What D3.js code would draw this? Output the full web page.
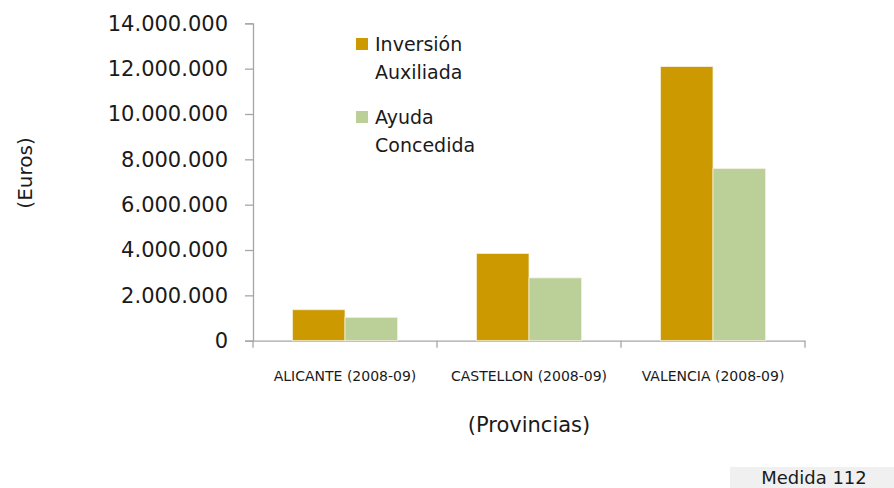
<!DOCTYPE html>
<html>
<head>
<meta charset="utf-8">
<script src="https://cdn.jsdelivr.net/npm/d3@7"></script>
<style>
  body { margin: 0; background: #fff; }
  svg text { font-family: "DejaVu Sans", Verdana, sans-serif; fill: #1a1a1a; }
</style>
</head>
<body>
<div id="chart"></div>
<script>
// data
let provincias = ["ALICANTE (2008-09)", "CASTELLON (2008-09)", "VALENCIA (2008-09)"]
let inversionAuxiliada = [1365000, 3850000, 12090000]
let ayudaConcedida = [1030000, 2770000, 7590000]
let yTicks = [0, 2000000, 4000000, 6000000, 8000000, 10000000, 12000000, 14000000]
let seriesNames = ["Inversión Auxiliada", "Ayuda Concedida"]
let seriesColors = ["#cc9900", "#bbcf99"]

let width = 894, height = 488
let plotLeft = 253, plotRight = 805, plotTop = 23.3, plotBottom = 340.7

let svg = d3.select("#chart").append("svg")
    .attr("width", width)
    .attr("height", height)

let x0 = d3.scaleBand().domain(provincias).range([plotLeft, plotRight]).padding(0)
let x1 = d3.scaleBand().domain(seriesNames).range([0, x0.bandwidth()])
    .paddingInner(0).paddingOuter(0.75)
let y = d3.scaleLinear().domain([0, 14000000]).range([plotBottom, plotTop])

let fmt = function (v) {
    return d3.format(",")(v).replace(/,/g, ".")
}

// y axis
let yAxis = svg.append("g")
    .attr("transform", "translate(" + plotLeft + ",0)")
    .call(d3.axisLeft(y).tickValues(yTicks).tickSize(8).tickPadding(17).tickFormat(fmt))
yAxis.selectAll("text").style("font-size", "21px").attr("fill", "#1a1a1a")
yAxis.selectAll("line, path").attr("stroke", "#a6a6a6").attr("stroke-width", 1.3)

// x axis
let xAxis = svg.append("g")
    .attr("transform", "translate(0," + plotBottom + ")")
    .call(d3.axisBottom(x0).tickSize(0).tickPadding(30))
xAxis.selectAll("text").style("font-size", "14px").attr("fill", "#1a1a1a")
xAxis.select("path").attr("stroke", "#a6a6a6").attr("stroke-width", 1.3)
// category boundary ticks
xAxis.selectAll(".bound")
    .data([plotLeft].concat(provincias.map(function (p) { return x0(p) + x0.bandwidth() })))
    .enter().append("line")
    .attr("x1", function (d) { return d })
    .attr("x2", function (d) { return d })
    .attr("y1", 0).attr("y2", 7)
    .attr("stroke", "#a6a6a6").attr("stroke-width", 1.3)

// bars
let rows = provincias.map(function (p, i) {
    return { prov: p, values: [inversionAuxiliada[i], ayudaConcedida[i]] }
})
let groups = svg.append("g").selectAll("g")
    .data(rows).enter().append("g")
    .attr("transform", function (d) { return "translate(" + x0(d.prov) + ",0)" })
groups.selectAll("rect")
    .data(function (d) { return d.values.map(function (v, j) { return { name: seriesNames[j], value: v, color: seriesColors[j] } }) })
    .enter().append("rect")
    .attr("x", function (d) { return x1(d.name) })
    .attr("width", x1.bandwidth())
    .attr("y", function (d) { return y(d.value) })
    .attr("height", function (d) { return plotBottom - y(d.value) })
    .attr("fill", function (d) { return d.color })
    .attr("stroke", "#f4f0dc")
    .attr("stroke-width", 0.8)

// legend
let legendLines = [["Inversión", "Auxiliada"], ["Ayuda", "Concedida"]]
let legend = svg.append("g").attr("transform", "translate(356,38)")
legendLines.forEach(function (lines, i) {
    let g = legend.append("g").attr("transform", "translate(0," + (i * 73) + ")")
    g.append("rect").attr("width", 12).attr("height", 12).attr("fill", seriesColors[i])
    lines.forEach(function (t, k) {
        g.append("text")
            .attr("x", 19)
            .attr("y", 13 + k * 28)
            .style("font-size", "19px")
            .text(t)
    })
})

// axis titles
svg.append("text")
    .attr("transform", "translate(32,173) rotate(-90)")
    .attr("text-anchor", "middle")
    .style("font-size", "20px")
    .text("(Euros)")

svg.append("text")
    .attr("x", (plotLeft + plotRight) / 2)
    .attr("y", 432)
    .attr("text-anchor", "middle")
    .style("font-size", "21px")
    .text("(Provincias)")

// footer tag
svg.append("rect")
    .attr("x", 730).attr("y", 467)
    .attr("width", width - 730).attr("height", 21)
    .attr("fill", "#f0f0f0")
svg.append("text")
    .attr("x", 814)
    .attr("y", 484)
    .attr("text-anchor", "middle")
    .style("font-size", "18px")
    .text("Medida 112")
</script>
</body>
</html>
